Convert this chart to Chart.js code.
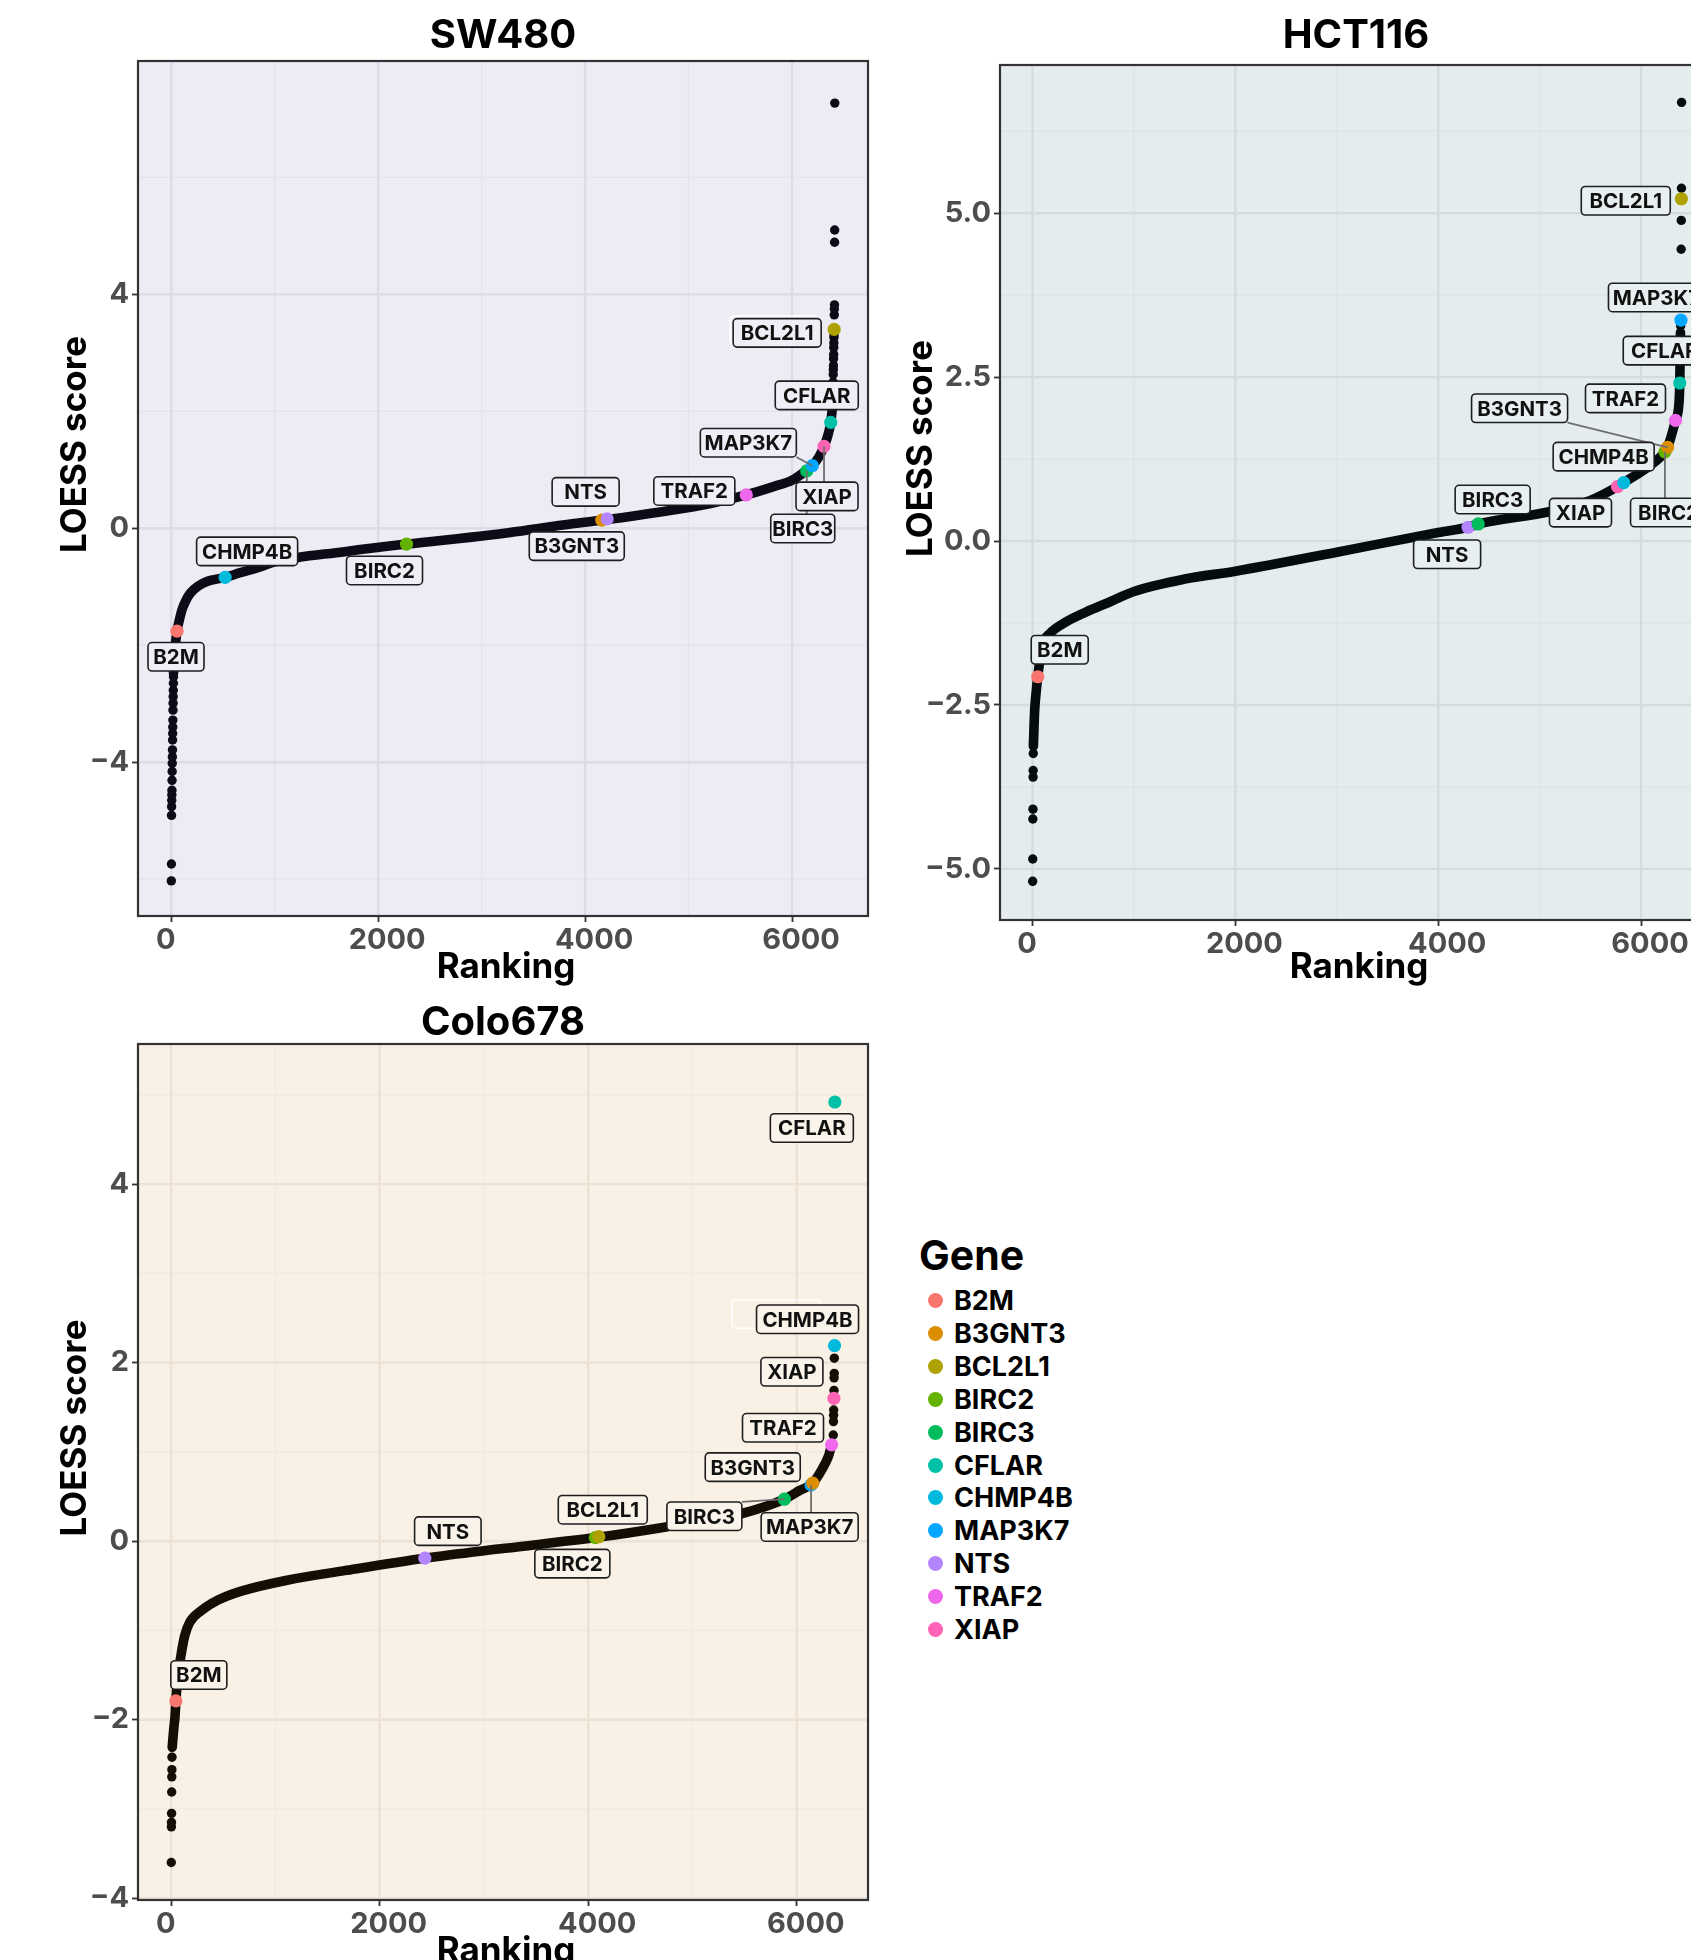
<!DOCTYPE html>
<html>
<head>
<meta charset="utf-8">
<script src="https://cdn.jsdelivr.net/npm/chart.js@4.4.1/dist/chart.umd.min.js"></script>
<style>
html,body{margin:0;padding:0;background:#fff;overflow:hidden;}
#wrap{position:relative;width:1691px;height:1960px;overflow:hidden;background:#fff;}
canvas{position:absolute;}
.lg{position:absolute;font-family:Inter,"Noto Sans",sans-serif;font-weight:700;color:#000;white-space:nowrap;}
.dot{position:absolute;border-radius:50%;}
</style>
</head>
<body>
<div id="wrap">
  <canvas id="sw" width="880" height="990" style="left:0;top:0"></canvas>
  <canvas id="hc" width="860" height="990" style="left:880px;top:0"></canvas>
  <canvas id="co" width="880" height="980" style="left:0;top:980px"></canvas>
  <div id="legend"></div>
</div>
<script>
// ---------------- data ----------------
const genes = ["B2M","B3GNT3","BCL2L1","BIRC2","BIRC3","CFLAR","CHMP4B","MAP3K7","NTS","TRAF2","XIAP"];
const geneColors = ["#F8766D","#DB8E00","#AEA200","#64B200","#00BD5C","#00C1A7","#00BADE","#00A6FF","#B385FF","#EF67EB","#FF63B6"];

// SW480
const swCurveRank  = [22,35,56,80,103,140,184,260,345,521,667,828,1010,1676,2274,3063,3894,4213,4726,5200,5558,5836,6000,6141,6196,6260,6309,6345,6374,6392];
const swCurveScore = [-2.48,-2.10,-1.76,-1.56,-1.40,-1.24,-1.11,-0.99,-0.91,-0.84,-0.76,-0.68,-0.57,-0.40,-0.27,-0.12,0.08,0.15,0.28,0.42,0.57,0.72,0.82,0.99,1.07,1.22,1.40,1.58,1.81,2.10];
const swDotRank  = [1,2,3,4,5,6,7,8,9,10,11,12,13,14,15,16,17,18,19,20,21,22,
                    6393,6394,6395,6396,6397,6398,6399,6400,6401,6402,6403,6404,6405,6406,6408,6409,6410,6411,6412,6413];
const swDotScore = [-6.03,-5.74,-4.91,-4.76,-4.65,-4.56,-4.48,-4.31,-4.16,-4.02,-3.91,-3.79,-3.62,-3.51,-3.40,-3.28,-3.11,-2.99,-2.88,-2.77,-2.65,-2.54,
                    2.14,2.24,2.31,2.42,2.50,2.63,2.71,2.78,2.90,2.97,3.09,3.17,3.26,3.31,3.65,3.75,3.82,4.89,5.10,7.27];
const swGeneRank  = [56,4161,6407,2274,6142,6374,521,6196,4213,5558,6309];
const swGeneScore = [-1.76,0.14,3.40,-0.27,0.98,1.81,-0.84,1.07,0.16,0.57,1.40];

// HCT116
const hcCurveRank  = [8,21,36,51,80,105,171,335,531,760,1000,1500,2000,3000,4000,4295,4395,5107,5500,5768,5829,6097,6236,6262,6340,6376,6382,6386,6389];
const hcCurveScore = [-3.13,-2.58,-2.30,-2.07,-1.75,-1.56,-1.41,-1.23,-1.08,-0.93,-0.77,-0.58,-0.46,-0.17,0.13,0.21,0.26,0.45,0.62,0.83,0.89,1.16,1.36,1.43,1.84,2.14,2.41,2.80,3.18];
const hcDotRank  = [1,2,3,4,5,6,7,6391,6395,6396,6397,6399,6400];
const hcDotScore = [-5.19,-4.85,-4.24,-4.09,-3.60,-3.50,-3.24,3.28,3.60,4.45,4.89,5.38,6.69];
const hcGeneRank  = [51,6262,6398,6236,4395,6382,5829,6394,4295,6340,5768];
const hcGeneScore = [-2.07,1.43,5.22,1.36,0.26,2.41,0.89,3.37,0.21,1.84,0.83];

// Colo678
const coCurveRank  = [10,25,38,45,65,94,130,177,287,450,672,1100,1663,2433,3200,4068,4745,5475,5881,6031,6153,6239,6303,6334];
const coCurveScore = [-2.31,-2.10,-1.95,-1.79,-1.52,-1.28,-1.06,-0.91,-0.78,-0.66,-0.56,-0.44,-0.33,-0.19,-0.08,0.04,0.16,0.31,0.47,0.57,0.65,0.80,0.95,1.08];
const coDotRank  = [1,2,3,4,5,6,7,8,6350,6352,6353,6354,6357,6358,6359,6360];
const coDotScore = [-3.60,-3.20,-3.15,-3.05,-2.81,-2.64,-2.56,-2.42,1.19,1.34,1.41,1.47,1.69,1.83,1.88,2.05];
const coGeneRank  = [45,6153,4101,4068,5881,6365,6362,6137,2433,6334,6356];
const coGeneScore = [-1.79,0.65,0.05,0.04,0.47,4.92,2.19,0.63,-0.19,1.08,1.60];

// tick values
const xMajorTicks = [0,2000,4000,6000];
const xMinorTicks = [1000,3000,5000];
const swYMajor = [-4,0,4],            swYMinor = [-6,-2,2,6];
const hcYMajor = [-5,-2.5,0,2.5,5],   hcYMinor = [-3.75,-1.25,1.25,3.75,6.25];
const coYMajor = [-4,-2,0,2,4],       coYMinor = [-3,-1,1,3,5];

// ---------------- layout / style (label offsets in px relative to gene point) ----------------
const swLabels = {B2M:[-1,25.6,56,false],B3GNT3:[-25,26,95,false],BCL2L1:[-57,3.4,88,false],BIRC2:[-22,26.4,76,false],
  BIRC3:[-4,57.5,64,true],CFLAR:[-14,-27,83,false],CHMP4B:[22,-26,101,false],MAP3K7:[-64,-23,96,true],
  NTS:[-21.5,-27,67,false],TRAF2:[-52,-4,81,false],XIAP:[3,50,62,true]};
const swGhosts = [["BCL2L1",-60,0.7,88]];
const hcLabels = {B2M:[22,-27,57,false],B3GNT3:[-148,-39,96,true],BCL2L1:[-55.6,2,89,false],BIRC2:[3.6,60.7,76,true],
  BIRC3:[14.4,-24.4,75,false],CFLAR:[-15,-32.4,83,false],CHMP4B:[-20,-26,101,false],MAP3K7:[-24.5,-22.6,96,false],
  NTS:[-21,27,67,false],TRAF2:[-50,-22,80,false],XIAP:[-37,26,62,false]};
const hcGhosts = [];
const coLabels = {B2M:[23,-26,56,false],B3GNT3:[-60,-16,95,false],BCL2L1:[4,-27,89,false],BIRC2:[-23,26,75,false],
  BIRC3:[-80,17,75,true],CFLAR:[-23,26,83,false],CHMP4B:[-27,-26.5,102,false],MAP3K7:[-1.4,42,97,true],
  NTS:[23,-27,66.5,false],TRAF2:[-48.6,-17,81,false],XIAP:[-42,-26.6,62,false]};
const coGhosts = [["CHMP4B",-58,-31.7,89]];

const FONT = 'Inter, "Noto Sans", sans-serif';

function rr(ctx,x,y,w,h,r){ctx.beginPath();ctx.moveTo(x+r,y);ctx.lineTo(x+w-r,y);ctx.arcTo(x+w,y,x+w,y+r,r);
  ctx.lineTo(x+w,y+h-r);ctx.arcTo(x+w,y+h,x+w-r,y+h,r);ctx.lineTo(x+r,y+h);ctx.arcTo(x,y+h,x,y+h-r,r);
  ctx.lineTo(x,y+r);ctx.arcTo(x,y,x+r,y,r);ctx.closePath();}

const panelPlugin = {
  id:'panel',
  beforeDatasetsDraw(chart,args,o){
    const {ctx,chartArea:a,scales:{x,y}} = chart;
    ctx.save();
    ctx.fillStyle=o.bg; ctx.fillRect(a.left,a.top,a.right-a.left,a.bottom-a.top);
    const vl=(v,w,c)=>{const p=x.getPixelForValue(v);ctx.strokeStyle=c;ctx.lineWidth=w;ctx.beginPath();ctx.moveTo(p,a.top);ctx.lineTo(p,a.bottom);ctx.stroke();};
    const hl=(v,w,c)=>{const p=y.getPixelForValue(v);ctx.strokeStyle=c;ctx.lineWidth=w;ctx.beginPath();ctx.moveTo(a.left,p);ctx.lineTo(a.right,p);ctx.stroke();};
    o.xMinor.forEach(v=>vl(v,1.3,o.gridMinor)); o.yMinor.forEach(v=>hl(v,1.3,o.gridMinor));
    o.xMajor.forEach(v=>vl(v,2.4,o.gridMajor)); o.yMajor.forEach(v=>hl(v,2.4,o.gridMajor));
    ctx.restore();
  },
  afterDatasetsDraw(chart,args,o){
    const {ctx,chartArea:a,scales:{x,y}} = chart;
    const H=28.5;
    ctx.save();
    ctx.beginPath();ctx.rect(a.left,a.top,a.right-a.left,a.bottom-a.top);ctx.clip();
    const gp = g => {const i=genes.indexOf(g);return [x.getPixelForValue(o.gr[i]),y.getPixelForValue(o.gs[i])];};
    // leaders
    for(const g of genes){const L=o.labels[g]; if(!L||!L[3]) continue;
      const [px,py]=gp(g); const cx=px+L[0], cy=py+L[1], w=L[2];
      const bx=Math.min(Math.max(px,cx-w/2),cx+w/2), by=Math.min(Math.max(py,cy-H/2),cy+H/2);
      ctx.strokeStyle='#6e6e6e';ctx.lineWidth=1.8;ctx.beginPath();ctx.moveTo(px,py);ctx.lineTo(bx,by);ctx.stroke();}
    // ghosts
    for(const gh of o.ghosts){const [px,py]=gp(gh[0]); const cx=px+gh[1], cy=py+gh[2], w=gh[3];
      ctx.strokeStyle='rgba(255,255,255,0.95)';ctx.lineWidth=1.6;rr(ctx,cx-w/2,cy-H/2,w,H,4);ctx.stroke();}
    // labels
    ctx.font='bold 20.5px '+FONT; ctx.textAlign='center'; ctx.textBaseline='alphabetic';
    for(const g of genes){const L=o.labels[g]; if(!L) continue;
      const [px,py]=gp(g); const cx=px+L[0], cy=py+L[1], w=L[2];
      rr(ctx,cx-w/2,cy-H/2,w,H,4); ctx.fillStyle=o.labelFill; ctx.fill();
      ctx.strokeStyle='#1e1e1e'; ctx.lineWidth=1.6; ctx.stroke();
      ctx.fillStyle='#111'; ctx.fillText(g,cx,cy+7.4);}
    ctx.restore();
    ctx.save();
    ctx.strokeStyle='#333'; ctx.lineWidth=2.2; ctx.strokeRect(a.left,a.top,a.right-a.left,a.bottom-a.top);
    ctx.restore();
  },
  afterDraw(chart,args,o){
    const {ctx,chartArea:a} = chart;
    ctx.save(); ctx.fillStyle='#000'; ctx.textAlign='center'; ctx.textBaseline='alphabetic';
    ctx.font='bold 40px '+FONT; ctx.fillText(o.title,(a.left+a.right)/2+o.titleDx,o.titleY);
    ctx.font='bold 35px '+FONT; ctx.fillText('Ranking',(a.left+a.right)/2+o.titleDx+3,o.xTitleY);
    ctx.translate(o.yTitleX,(a.top+a.bottom)/2-44); ctx.rotate(-Math.PI/2);
    ctx.fillText('LOESS score',0,0);
    ctx.restore();
  }
};

function pts(r,s){return r.map((v,i)=>({x:v,y:s[i]}));}

function makePanel(id,p){
  const order = p.gr.map((v,i)=>i).sort((i,j)=>p.gr[i]-p.gr[j]);
  const gPts = order.map(i=>({x:p.gr[i],y:p.gs[i]}));
  const gCol = order.map(i=>geneColors[i]);
  const tickFont = {family:FONT,size:29,weight:'bold'};
  // the reference renders multi-digit labels slightly right of the tick and "0" slightly left
  const fmtX = v => v===0 ? '0\u2002\u2002' : String(v);
  const fmtY = v => (p.dec? v.toFixed(1) : String(v)).replace('-','\u2212');
  return new Chart(document.getElementById(id),{
    type:'scatter',
    data:{datasets:[
      {data:gPts,pointRadius:6.6,pointBackgroundColor:gCol,pointBorderWidth:0,order:0},
      {data:pts(p.dr,p.ds),pointRadius:4.7,pointBackgroundColor:p.ink,pointBorderWidth:0,order:1},
      {data:pts(p.cr,p.cs),showLine:true,borderColor:p.ink,borderWidth:9.6,pointRadius:0,
       cubicInterpolationMode:'monotone',borderCapStyle:'round',borderJoinStyle:'round',order:2}
    ]},
    options:{
      responsive:false,animation:false,events:[],
      layout:{padding:{top:p.top,right:p.right,left:0,bottom:0}},
      plugins:{legend:{display:false},tooltip:{enabled:false},
        panel:{bg:p.bg,gridMajor:p.gridMajor,gridMinor:p.gridMinor,labelFill:p.labelFill,
          xMajor:xMajorTicks,xMinor:xMinorTicks,yMajor:p.yMajor,yMinor:p.yMinor,
          gr:p.gr,gs:p.gs,labels:p.labels,ghosts:p.ghosts,
          title:p.title,titleY:p.titleY,titleDx:p.titleDx||0,xTitleY:p.xTitleY,yTitleX:p.yTitleX}},
      scales:{
        x:{type:'linear',min:p.xmin,max:p.xmax,
          afterBuildTicks:s=>{s.ticks=xMajorTicks.map(v=>({value:v}));},
          afterFit:s=>{s.height=p.xh;},
          ticks:{font:tickFont,color:'#4D4D4D',padding:1,maxRotation:0,autoSkip:false,labelOffset:9,callback:fmtX},
          grid:{drawOnChartArea:false,drawTicks:true,tickLength:6,tickColor:'#333',tickWidth:1.8},
          border:{display:false}},
        y:{type:'linear',min:p.ymin,max:p.ymax,
          afterBuildTicks:s=>{s.ticks=p.yMajor.map(v=>({value:v}));},
          afterFit:s=>{s.width=p.yw;},
          ticks:{font:tickFont,color:'#4D4D4D',padding:3,autoSkip:false,callback:fmtY},
          grid:{drawOnChartArea:false,drawTicks:true,tickLength:6,tickColor:'#333',tickWidth:1.8},
          border:{display:false}}
      }
    },
    plugins:[panelPlugin]
  });
}

makePanel('sw',{cr:swCurveRank,cs:swCurveScore,dr:swDotRank,ds:swDotScore,gr:swGeneRank,gs:swGeneScore,
  labels:swLabels,ghosts:swGhosts,yMajor:swYMajor,yMinor:swYMinor,
  xmin:-321,xmax:6734,ymin:-6.63,ymax:7.99,top:61,right:12,yw:138,xh:74,
  bg:'#EDECF5',gridMajor:'#DCDBE6',gridMinor:'#E3E2EC',labelFill:'#EFEEF6',ink:'#0c0b17',
  title:'SW480',titleY:48,xTitleY:978,yTitleX:86});

makePanel('hc',{cr:hcCurveRank,cs:hcCurveScore,dr:hcDotRank,ds:hcDotScore,gr:hcGeneRank,gs:hcGeneScore,
  labels:hcLabels,ghosts:hcGhosts,yMajor:hcYMajor,yMinor:hcYMinor,dec:true,
  xmin:-321,xmax:6700,ymin:-5.78,ymax:7.26,top:65,right:28,yw:120,xh:70,
  bg:'#E5ECEE',gridMajor:'#D3DCDE',gridMinor:'#DCE4E6',labelFill:'#E8EFF0',ink:'#050c0f',
  title:'HCT116',titleY:48,xTitleY:978,yTitleX:52});

makePanel('co',{cr:coCurveRank,cs:coCurveScore,dr:coDotRank,ds:coDotScore,gr:coGeneRank,gs:coGeneScore,
  labels:coLabels,ghosts:coGhosts,yMajor:coYMajor,yMinor:coYMinor,
  xmin:-318,xmax:6683,ymin:-4.02,ymax:5.57,top:64,right:12,yw:138,xh:60,
  bg:'#F9F1E6',gridMajor:'#EBE2D5',gridMinor:'#F1E9DD',labelFill:'#FAF3E9',ink:'#150e05',
  title:'Colo678',titleY:55,xTitleY:982,yTitleX:86});

// ---------------- legend ----------------
(function(){
  const lg=document.getElementById('legend');
  const t=document.createElement('div'); t.className='lg'; t.textContent='Gene';
  t.style.cssText='left:919px;top:1230px;font-size:41px;line-height:50px;';
  lg.appendChild(t);
  genes.forEach((g,i)=>{
    const cy=1300.5+32.9*i;
    const d=document.createElement('div'); d.className='dot';
    d.style.cssText=`left:${935-7.5}px;top:${cy-7.5}px;width:15px;height:15px;background:${geneColors[i]};`;
    lg.appendChild(d);
    const s=document.createElement('div'); s.className='lg'; s.textContent=g;
    s.style.cssText=`left:954px;top:${cy-16.5}px;font-size:27px;line-height:33px;`;
    lg.appendChild(s);
  });
})();
</script>
</body>
</html>
